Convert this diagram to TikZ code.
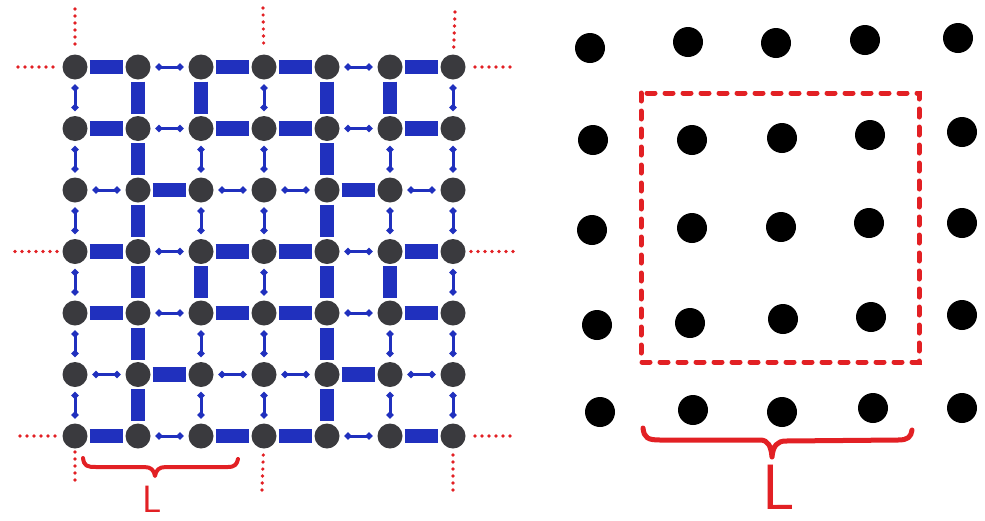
\documentclass[tikz,border=0pt]{standalone}
\usetikzlibrary{arrows.meta}
\definecolor{bondblue}{RGB}{32,48,190}
\definecolor{sitegray}{RGB}{58,58,62}
\definecolor{penred}{RGB}{226,32,36}
\begin{document}
\begin{tikzpicture}[x=1pt,y=-1pt,
 site/.style={circle,fill=sitegray,minimum size=25pt,inner sep=0pt},
 atom/.style={circle,fill=black,minimum size=30pt,inner sep=0pt},
 strongbond/.style={draw=bondblue,line width=14.5pt,shorten >=2pt,shorten <=2pt},
 weakbond/.style={draw=bondblue,line width=3pt,shorten >=5pt,shorten <=5pt,{Circle[length=6.5pt]}-{Circle[length=6.5pt]}},
 bcdots/.style={draw=penred,line width=3.6pt,line cap=round,dash pattern=on 0pt off 7pt},
 cellbox/.style={draw=penred,line width=5pt,line cap=round,dash pattern=on 8pt off 10pt},
 bracepen/.style={draw=penred,line width=4pt,line cap=round,line join=round},
 letterL/.style={text=penred,inner sep=0pt}]
\useasboundingbox (0,0) rectangle (985,520);

% ---------- left lattice: sites ----------
\foreach \i in {0,...,6}
 \foreach \j in {0,...,6}
  \node[site] (d-\i-\j) at ({75+63*\j},{67+61.5*\i}) {};

% horizontal bonds
\foreach \i in {0,...,6} {
 \foreach \j in {0,...,5} {
  \pgfmathtruncatemacro\jnext{\j+1}
  \pgfmathtruncatemacro\mi{mod(\i,3)}
  \pgfmathtruncatemacro\mj{mod(\j,3)}
  \ifnum\mi=2
    \ifnum\mj=1 \tikzset{curbond/.style={strongbond}}\else\tikzset{curbond/.style={weakbond}}\fi
  \else
    \ifnum\mj=1 \tikzset{curbond/.style={weakbond}}\else\tikzset{curbond/.style={strongbond}}\fi
  \fi
  \draw[curbond] (d-\i-\j) -- (d-\i-\jnext);
 }
}

% vertical bonds
\foreach \i in {0,...,5} {
 \foreach \j in {0,...,6} {
  \pgfmathtruncatemacro\inext{\i+1}
  \pgfmathtruncatemacro\mi{mod(\i,3)}
  \pgfmathtruncatemacro\mj{mod(\j,3)}
  \ifnum\mi=0
    \ifnum\mj=0 \tikzset{curbond/.style={weakbond}}\else\tikzset{curbond/.style={strongbond}}\fi
  \else
    \ifnum\mj=1 \tikzset{curbond/.style={strongbond}}\else\tikzset{curbond/.style={weakbond}}\fi
  \fi
  \draw[curbond] (d-\i-\j) -- (d-\inext-\j);
 }
}

% red dotted boundary stubs
\coordinate (tA) at (75,9);   \coordinate (tB) at (263,8);   \coordinate (tC) at (455,12);
\coordinate (bA) at (75,480); \coordinate (bB) at (262,490); \coordinate (bC) at (453,490);
\coordinate (lA) at (18,67);  \coordinate (lB) at (15,251.5); \coordinate (lC) at (20,436);
\coordinate (rA) at (510,67); \coordinate (rB) at (513,251.5); \coordinate (rC) at (510,436);
\draw[bcdots,shorten >=5pt] (tA) -- (d-0-0);
\draw[bcdots,shorten >=5pt] (tB) -- (d-0-3);
\draw[bcdots,shorten >=5pt] (tC) -- (d-0-6);
\draw[bcdots,shorten >=3pt] (bA) -- (d-6-0);
\draw[bcdots,shorten >=3pt] (bB) -- (d-6-3);
\draw[bcdots,shorten >=3pt] (bC) -- (d-6-6);
\draw[bcdots,shorten >=4pt] (lA) -- (d-0-0);
\draw[bcdots,shorten >=4pt] (lB) -- (d-3-0);
\draw[bcdots,shorten >=4pt] (lC) -- (d-6-0);
\draw[bcdots,shorten >=4pt] (rA) -- (d-0-6);
\draw[bcdots,shorten >=4pt] (rB) -- (d-3-6);
\draw[bcdots,shorten >=4pt] (rC) -- (d-6-6);

% left brace and label
\draw[bracepen] (83,458) .. controls (84,466) and (87,467) .. (96,467) -- (144,467)
  .. controls (151,467) and (154,470) .. (155,476) .. controls (156,470) and (159,467) .. (166,467)
  -- (228,467) .. controls (235,467) and (237,464) .. (238,459);
\node[letterL,font=\fontsize{38}{38}\selectfont\sffamily] (Lleft) at (152,499) {L};

% ---------- right lattice ----------
\foreach \i/\j/\x/\y in {
 0/0/590/48, 0/1/688/42, 0/2/776/43, 0/3/865/40, 0/4/958/38,
 1/0/593/140, 1/1/692/140, 1/2/782/138, 1/3/870/135, 1/4/962/132,
 2/0/592/230, 2/1/692/228, 2/2/781/227, 2/3/869/223, 2/4/962/223,
 3/0/597/325, 3/1/690/323, 3/2/783/319, 3/3/871/317, 3/4/962/315,
 4/0/600/412, 4/1/693/410, 4/2/782/412, 4/3/873/408, 4/4/962/408}
  \node[atom] (r-\i-\j) at (\x,\y) {};

\draw[cellbox] (641,93) rectangle (919,362);

\draw[bracepen,line width=5pt] (643,428) .. controls (644,438) and (648,440) .. (660,440) -- (760,440)
  .. controls (768,440) and (771,446) .. (772,457) .. controls (773,446) and (777,441) .. (786,441)
  -- (898,440) .. controls (908,440) and (911,437) .. (912,430);
\node[letterL,font=\fontsize{64}{64}\selectfont\sffamily] (Lright) at (779,487) {L};
\end{tikzpicture}
\end{document}
